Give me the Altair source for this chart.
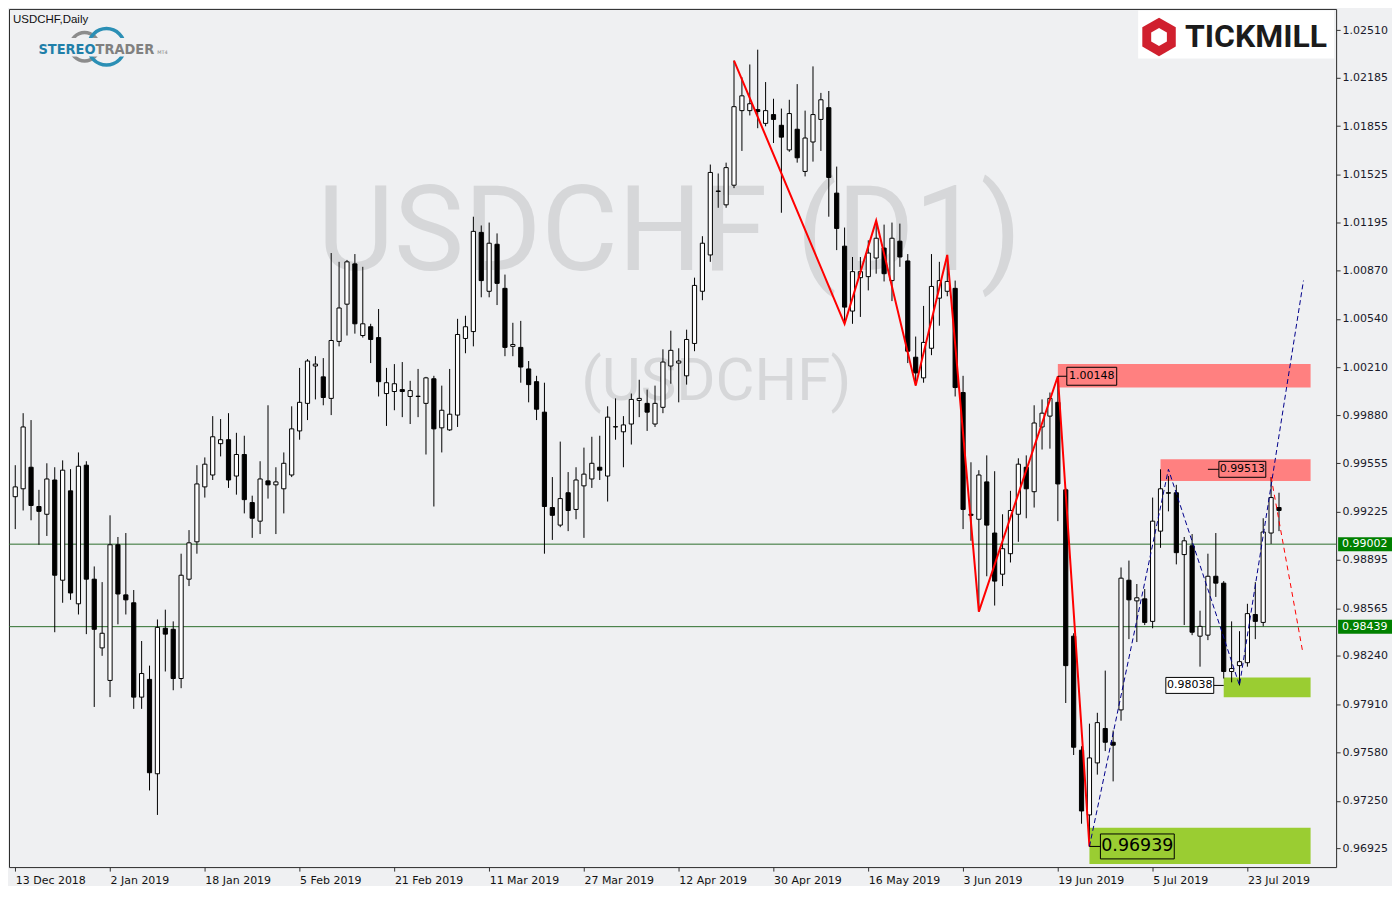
import altair as alt
import pandas as pd

# ---------------- data ----------------
dates = ["13 Dec 2018", "2 Jan 2019", "18 Jan 2019", "5 Feb 2019", "21 Feb 2019",
         "11 Mar 2019", "27 Mar 2019", "12 Apr 2019", "30 Apr 2019", "16 May 2019",
         "3 Jun 2019", "19 Jun 2019", "5 Jul 2019", "23 Jul 2019"]
price_ticks = [1.02510, 1.02185, 1.01855, 1.01525, 1.01195, 1.00870, 1.00540, 1.00210,
               0.99880, 0.99555, 0.99225, 0.98895, 0.98565, 0.98240, 0.97910, 0.97580,
               0.97250, 0.96925]

opens = [
    0.99326, 0.99380, 0.99527, 0.99259, 0.99206, 0.99440, 0.98756, 0.99366, 0.98595, 0.99541,
    0.98763, 0.98294, 0.98072, 0.98998, 0.98656, 0.98602, 0.97958, 0.98079, 0.97435, 0.98428,
    0.98421, 0.98085, 0.98763, 0.99018, 0.99393, 0.99474, 0.99688, 0.99715, 0.99467, 0.99614,
    0.99286, 0.99159, 0.99434, 0.99407, 0.99380, 0.99474, 0.99775, 0.99963, 1.00218, 1.00144,
    0.99997, 1.00386, 1.00640, 1.00915, 1.00426, 1.00486, 1.00412, 1.00030, 1.00044, 1.00057,
    1.00010, 1.00010, 0.99963, 1.00131, 0.99796, 0.99782, 0.99883, 1.00406, 1.00453, 1.01130,
    1.00728, 1.01049, 1.00748, 1.00352, 1.00345, 1.00198, 1.00111, 0.99903, 0.99252, 0.99132,
    0.99353, 0.99239, 0.99400, 0.99447, 0.99527, 0.99467, 0.99802, 0.99769, 0.99822, 0.99983,
    0.99963, 0.99822, 0.99936, 1.00218, 1.00238, 1.00151, 1.00372, 1.00728, 1.00976, 1.01412,
    1.01318, 1.01452, 1.01961, 1.01961, 1.01968, 1.01874, 1.01934, 1.01861, 1.01693, 1.01834,
    1.01546, 1.01747, 1.01901, 1.01981, 1.01398, 1.01036, 1.00593, 1.00821, 1.00828, 1.00955,
    1.01023, 1.00801, 1.01070, 1.00935, 1.00278, 1.00137, 1.00339, 1.00681, 1.00728, 1.00748,
    1.00037, 0.99206, 0.99172, 0.99427, 0.99078, 0.98797, 0.98937, 0.99206, 0.99527, 0.99360,
    0.99802, 0.99876, 0.99970, 0.99373, 0.98374, 0.97596, 0.97154, 0.97509, 0.97744, 0.97650,
    0.97871, 0.98756, 0.98615, 0.98629, 0.98475, 0.99091, 0.99353, 0.99353, 0.98931, 0.98991,
    0.98374, 0.98381, 0.98783, 0.98736, 0.98133, 0.98173, 0.98193, 0.98522, 0.98468, 0.99078,
    0.99252]
highs = [
    0.99541, 0.99896, 0.99849, 0.99373, 0.99554, 0.99527, 0.99574, 0.99514, 0.99628, 0.99568,
    0.98850, 0.98743, 0.99199, 0.99051, 0.99078, 0.98689, 0.98341, 0.98173, 0.98488, 0.98555,
    0.98475, 0.98937, 0.99098, 0.99541, 0.99594, 0.99876, 0.99856, 0.99896, 0.99762, 0.99742,
    0.99333, 0.99568, 0.99950, 0.99527, 0.99628, 0.99943, 1.00205, 1.00265, 1.00285, 1.00272,
    1.00989, 1.00929, 1.00942, 1.00982, 1.00895, 1.00506, 1.00607, 1.00205, 1.00231, 1.00245,
    1.00117, 1.00198, 1.00144, 1.00151, 1.00084, 1.00198, 1.00540, 1.00561, 1.01237, 1.01177,
    1.01197, 1.01123, 1.00842, 1.00513, 1.00526, 1.00252, 1.00151, 1.00104, 0.99460, 0.99702,
    0.99494, 0.99527, 0.99661, 0.99735, 0.99742, 0.99943, 0.99997, 0.99876, 1.00030, 1.00124,
    1.00057, 1.00084, 1.00332, 1.00459, 1.00339, 1.00466, 1.00821, 1.01104, 1.01593, 1.01532,
    1.01606, 1.02303, 1.02189, 1.02276, 1.02377, 1.02156, 1.02042, 1.01975, 1.02035, 1.02142,
    1.01961, 1.02263, 1.02082, 1.02095, 1.01579, 1.01163, 1.00962, 1.00962, 1.01076, 1.01210,
    1.01183, 1.01197, 1.01190, 1.00982, 1.00419, 1.00628, 1.00982, 1.00929, 1.00976, 1.00801,
    1.00151, 0.99561, 0.99507, 0.99608, 0.99500, 0.99206, 0.99366, 0.99588, 0.99608, 0.99950,
    0.99990, 1.00037, 1.00148, 0.99386, 0.98394, 0.97623, 0.97777, 0.97851, 0.98139, 0.97730,
    0.98843, 0.98890, 0.98730, 0.98696, 0.99320, 0.99513, 0.99467, 0.99407, 0.99051, 0.99071,
    0.98548, 0.98937, 0.99078, 0.98750, 0.98475, 0.98408, 0.98595, 0.98743, 0.99179, 0.99460,
    0.99353]
lows = [
    0.99105, 0.99232, 0.99165, 0.98998, 0.99058, 0.98401, 0.98602, 0.98622, 0.98522, 0.98388,
    0.97891, 0.98240, 0.97958, 0.98455, 0.98522, 0.97878, 0.97878, 0.97321, 0.97154, 0.98133,
    0.98005, 0.98019, 0.98716, 0.98937, 0.99320, 0.99440, 0.99601, 0.99386, 0.99340, 0.99212,
    0.99045, 0.99071, 0.99313, 0.99071, 0.99212, 0.99460, 0.99715, 0.99849, 0.99990, 0.99950,
    0.99883, 1.00352, 1.00426, 1.00439, 1.00412, 1.00238, 1.00010, 0.99809, 0.99916, 0.99869,
    0.99822, 0.99869, 0.99614, 0.99259, 0.99628, 0.99775, 0.99802, 1.00305, 1.00352, 1.00687,
    1.00687, 1.00634, 1.00285, 1.00285, 1.00104, 0.99970, 0.99849, 0.98937, 0.99031, 0.99118,
    0.99091, 0.99172, 0.99045, 0.99386, 0.99440, 0.99293, 0.99715, 0.99527, 0.99682, 0.99869,
    0.99775, 0.99802, 0.99896, 1.00097, 0.99970, 1.00091, 1.00319, 1.00667, 1.00929, 1.01298,
    1.01298, 1.01432, 1.01686, 1.01928, 1.01841, 1.01854, 1.01740, 1.01264, 1.01680, 1.01606,
    1.01512, 1.01613, 1.01686, 1.01237, 1.01009, 1.00506, 1.00506, 1.00553, 1.00734, 1.00848,
    1.00795, 1.00661, 1.00895, 1.00238, 1.00084, 1.00104, 1.00292, 1.00493, 1.00694, 1.00010,
    0.99105, 0.99025, 0.98542, 0.98783, 0.98583, 0.98716, 0.98877, 0.99018, 0.99179, 0.99252,
    0.99648, 0.99654, 0.99159, 0.97918, 0.97563, 0.97094, 0.96939, 0.97429, 0.97590, 0.97383,
    0.97797, 0.98354, 0.98334, 0.98450, 0.98428, 0.98977, 0.99226, 0.98864, 0.98450, 0.98381,
    0.98166, 0.98347, 0.98642, 0.98085, 0.98059, 0.98038, 0.98166, 0.98354, 0.98441, 0.99004,
    0.99091]
closes = [
    0.99393, 0.99802, 0.99266, 0.99226, 0.99447, 0.98790, 0.99507, 0.98669, 0.99534, 0.98763,
    0.98421, 0.98394, 0.98998, 0.98662, 0.98622, 0.97958, 0.98119, 0.97442, 0.98434, 0.98388,
    0.98085, 0.98790, 0.99011, 0.99413, 0.99548, 0.99735, 0.99715, 0.99440, 0.99614, 0.99306,
    0.99179, 0.99447, 0.99407, 0.99427, 0.99554, 0.99789, 0.99970, 1.00252, 1.00231, 1.00003,
    1.00392, 1.00614, 1.00929, 1.00506, 1.00506, 1.00399, 1.00111, 1.00104, 1.00097, 1.00044,
    1.00050, 1.00012, 1.00137, 0.99789, 0.99916, 0.99889, 1.00433, 1.00486, 1.01137, 1.00801,
    1.01056, 1.00782, 1.00345, 1.00365, 1.00211, 1.00091, 0.99923, 0.99259, 0.99199, 0.99313,
    0.99232, 0.99440, 0.99480, 0.99554, 0.99507, 0.99869, 0.99804, 0.99816, 0.99990, 0.99997,
    0.99903, 0.99963, 1.00245, 1.00325, 1.00252, 1.00399, 1.00768, 1.01056, 1.01539, 1.01410,
    1.01572, 1.01988, 1.02062, 1.02008, 1.01955, 1.01961, 1.01901, 1.01780, 1.01941, 1.01639,
    1.01774, 1.01934, 1.02035, 1.01505, 1.01157, 1.00620, 1.00862, 1.00862, 1.00989, 1.01090,
    1.00848, 1.01090, 1.00962, 1.00319, 1.00171, 1.00379, 1.00761, 1.00801, 1.00795, 1.00071,
    0.99239, 0.99199, 0.99474, 0.99132, 0.98750, 0.98971, 0.99232, 0.99548, 0.99380, 0.99829,
    0.99896, 0.99997, 0.99413, 0.98173, 0.97616, 0.97181, 0.97543, 0.97784, 0.97650, 0.97630,
    0.98770, 0.98622, 0.98636, 0.98468, 0.99159, 0.99380, 0.99350, 0.98944, 0.99025, 0.98401,
    0.98441, 0.98783, 0.98736, 0.98133, 0.98153, 0.98200, 0.98528, 0.98475, 0.99085, 0.99320,
    0.99232]

# horizontal levels
hline_levels = [0.99002, 0.98439]

# red zigzag (bar index, price)
zig_bars = [91, 105, 109, 114, 118, 122, 132, 136]
zig_prices = [1.02303, 1.00506, 1.01210, 1.00084, 1.00976, 0.98542, 1.00148, 0.96939]

# blue dashed projection
blue_bars = [136, 146, 155, 163.1]
blue_prices = [0.96939, 0.99513, 0.98038, 1.00801]

# red dashed projection
rdash_bars = [159, 163]
rdash_prices = [0.99460, 0.98267]

# zones
zone_kind = ["resistance", "resistance", "support", "support"]
zone_start = [132, 145, 153, 136]
zone_end = [164, 164, 164, 164]
zone_top = [1.00231, 0.99581, 0.98092, 0.97067]
zone_bottom = [1.00071, 0.99434, 0.97958, 0.96819]

# price labels
label_texts = ["1.00148", "0.99513", "0.98038", "0.96939"]
label_bars = [132, 151, 153, 136]
label_prices = [1.00148, 0.99513, 0.98038, 0.96939]

# ---------------- layout helpers ----------------
W, H = 1330, 860
BG = "#eff0f2"
SX = W / 1334.0
SY = H / 873.5


def px(x):
    return (x - 2) * SX


def py(y):
    return (y - 2.5) * SY


xs = alt.Scale(domain=[-0.16, 166.6], nice=False, zero=False)
ys = alt.Scale(domain=[0.96798, 1.02655], nice=False, zero=False)

label_expr = "[" + ",".join("'%s'" % d for d in dates) + "][round(datum.value / 12)]"
x_axis = alt.Axis(values=[12 * i for i in range(len(dates))], labelExpr=label_expr,
                  orient="bottom", labelAlign="left", labelBaseline="top", tickSize=4,
                  tickColor="#333", grid=False, domain=False, title=None,
                  labelFont="DejaVu Sans", labelFontSize=11, labelColor="#111",
                  labelPadding=3, labelFlush=False, labelOverlap=False)
y_axis = alt.Axis(values=price_ticks, format=".5f", orient="right", tickSize=4,
                  tickColor="#333", grid=False, domain=False, title=None,
                  labelFont="DejaVu Sans", labelFontSize=11, labelColor="#1a1a2a",
                  labelPadding=2, labelFlush=False, labelOverlap=False,
                  labelBaseline="middle")


def X(f):
    return alt.X(f, type="quantitative", scale=xs, axis=x_axis)


def Y(f):
    return alt.Y(f, type="quantitative", scale=ys, axis=y_axis)


layers = []

# ---------- watermark ----------
wm = pd.DataFrame({"t": ["USDCHF (D1)"]})
layers.append(alt.Chart(wm).mark_text(font="Roboto", fontSize=120 * SY, color="#d6d7d9",
                                      align="center", baseline="alphabetic").encode(
    x=alt.value(px(666)), y=alt.value(py(268)), text="t:N"))
wm2 = pd.DataFrame({"t": ["(USDCHF)"]})
layers.append(alt.Chart(wm2).mark_text(font="Roboto", fontSize=61 * SY, color="#d6d7d9",
                                       align="center", baseline="alphabetic").encode(
    x=alt.value(px(713)), y=alt.value(py(401)), text="t:N"))

# ---------- zones ----------
zones = pd.DataFrame({"kind": zone_kind, "k0": zone_start, "k1": zone_end,
                      "top": zone_top, "bottom": zone_bottom})
layers.append(alt.Chart(zones).mark_rect().encode(
    x=X("k0"), x2=alt.X2("k1"), y=Y("top"), y2=alt.Y2("bottom"),
    color=alt.Color("kind:N", scale=alt.Scale(domain=["resistance", "support"],
                                              range=["#ff8080", "#9acd32"]), legend=None)))

# ---------- horizontal lines ----------
hl = pd.DataFrame({"p": hline_levels})
layers.append(alt.Chart(hl).mark_rule(color="#2d6e2d", strokeWidth=1).encode(y=Y("p")))

# ---------- candles ----------
candles = pd.DataFrame({"bar": list(range(len(opens))), "open": opens, "high": highs,
                        "low": lows, "close": closes})
base = alt.Chart(candles)
layers.append(base.mark_rule(color="black", strokeWidth=1).encode(
    x=X("bar"), y=Y("low"), y2=alt.Y2("high")))
layers.append(base.mark_bar(size=4.2, stroke="black", strokeWidth=1).encode(
    x=X("bar"), y=Y("open"), y2=alt.Y2("close"),
    fill=alt.condition("datum.close >= datum.open", alt.value("white"), alt.value("black"))))

# ---------- zigzag & projections ----------
zig = pd.DataFrame({"k": zig_bars, "p": zig_prices, "i": list(range(len(zig_bars)))})
layers.append(alt.Chart(zig).mark_line(color="#ff0000", strokeWidth=2).encode(
    x=X("k"), y=Y("p"), order="i:Q"))
blue = pd.DataFrame({"k": blue_bars, "p": blue_prices, "i": list(range(len(blue_bars)))})
layers.append(alt.Chart(blue).mark_line(color="#00008b", strokeWidth=1, strokeDash=[5, 3]).encode(
    x=X("k"), y=Y("p"), order="i:Q"))
rd = pd.DataFrame({"k": rdash_bars, "p": rdash_prices, "i": [0, 1]})
layers.append(alt.Chart(rd).mark_line(color="#ff0000", strokeWidth=1, strokeDash=[5, 4]).encode(
    x=X("k"), y=Y("p"), order="i:Q"))

# ---------- price labels ----------
# (connector start, connector end, box left, box right, half height, font size, box fill)
label_styles = [
    (0, 9, 9, 59, 9, 11, None),
    (0, 11, 11, 58, 8, 11, None),
    (-10, 0, -58, -10, 8, 11, "white"),
    (0, 11, 11, 85, 12.5, 17.5, None),
]
for t, k, p, st in zip(label_texts, label_bars, label_prices, label_styles):
    c0, c1, b0, b1, hh, fs, fill = st
    d = pd.DataFrame({"k": [k], "p": [p], "t": [t]})
    lc = alt.Chart(d)
    layers.append(lc.mark_rule(color="black", strokeWidth=1, xOffset=c0, x2Offset=c1).encode(
        x=X("k"), x2=alt.X2("k"), y=Y("p")))
    rect_kw = dict(stroke="black", strokeWidth=1, xOffset=b0, x2Offset=b1,
                   yOffset=-hh, y2Offset=hh)
    if fill:
        rect_kw["fill"] = fill
    else:
        rect_kw["fillOpacity"] = 0
    layers.append(lc.mark_rect(**rect_kw).encode(x=X("k"), x2=alt.X2("k"), y=Y("p"), y2=alt.Y2("p")))
    layers.append(lc.mark_text(font="DejaVu Sans", fontSize=fs, color="black", align="center",
                               baseline="middle", dx=(b0 + b1) / 2.0).encode(
        x=X("k"), y=Y("p"), text="t:N"))

# ---------- right axis price boxes ----------
pb = pd.DataFrame({"p": hline_levels, "t": ["%.5f" % v for v in hline_levels]})
layers.append(alt.Chart(pb).mark_rect(color="#008000", yOffset=-7, y2Offset=7).encode(
    x=alt.value(W + 2), x2=alt.value(W + 56), y=Y("p"), y2=alt.Y2("p")))
layers.append(alt.Chart(pb).mark_text(font="DejaVu Sans", fontSize=11, color="white",
                                      align="left", baseline="middle").encode(
    x=alt.value(W + 6), y=Y("p"), text="t:N"))

# ---------- symbol caption ----------
cap = pd.DataFrame({"t": ["USDCHF,Daily"]})
layers.append(alt.Chart(cap).mark_text(font="Liberation Sans", fontSize=11.5, color="#111",
                                       align="left", baseline="alphabetic").encode(
    x=alt.value(px(6)), y=alt.value(py(17)), text="t:N"))

# ---------- StereoTrader logo ----------
one = pd.DataFrame({"a": [0]})
layers.append(alt.Chart(one).mark_arc(radius=16, radius2=12.5, theta=0, theta2=6.2832,
                                      color="#8c8c8c").encode(
    x=alt.value(px(78)), y=alt.value(py(41))))
layers.append(alt.Chart(one).mark_arc(radius=20, radius2=16.5, theta=0, theta2=6.2832,
                                      color="#2b8fb5").encode(
    x=alt.value(px(100)), y=alt.value(py(41))))
layers.append(alt.Chart(one).mark_rect(color=BG).encode(
    x=alt.value(px(34)), x2=alt.value(px(150)), y=alt.value(py(32)), y2=alt.value(py(51))))
st1 = pd.DataFrame({"t": ["STEREO"]})
layers.append(alt.Chart(st1).mark_text(font="DejaVu Sans Condensed", fontWeight="bold",
                                       fontSize=14.5, color="#1f7fa9", align="right",
                                       baseline="alphabetic").encode(
    x=alt.value(px(89)), y=alt.value(py(48)), text="t:N"))
st2 = pd.DataFrame({"t": ["TRADER"]})
layers.append(alt.Chart(st2).mark_text(font="DejaVu Sans Condensed", fontWeight="bold",
                                       fontSize=14.5, color="#808080", align="left",
                                       baseline="alphabetic").encode(
    x=alt.value(px(89)), y=alt.value(py(48)), text="t:N"))
st3 = pd.DataFrame({"t": ["MT4"]})
layers.append(alt.Chart(st3).mark_text(font="DejaVu Sans", fontSize=5, color="#808080",
                                       align="left", baseline="alphabetic").encode(
    x=alt.value(px(151)), y=alt.value(py(48)), text="t:N"))

# ---------- Tickmill logo ----------
layers.append(alt.Chart(one).mark_rect(color="white").encode(
    x=alt.value(px(1137)), x2=alt.value(px(1334)), y=alt.value(py(4)), y2=alt.value(py(53))))
hexagon = "M0,-1 L0.866,-0.5 L0.866,0.5 L0,1 L-0.866,0.5 L-0.866,-0.5 Z"
layers.append(alt.Chart(one).mark_point(shape=hexagon, size=1500, filled=True, opacity=1,
                                        color="#d0202e").encode(
    x=alt.value(px(1158)), y=alt.value(py(31))))
layers.append(alt.Chart(one).mark_point(shape=hexagon, size=330, filled=True, opacity=1,
                                        color="white").encode(
    x=alt.value(px(1158)), y=alt.value(py(31))))
tm = pd.DataFrame({"t": ["TICKMILL"]})
layers.append(alt.Chart(tm).mark_text(font="Roboto", fontWeight="bold", fontSize=32,
                                      color="#1b1b1b", align="left",
                                      baseline="alphabetic").encode(
    x=alt.value(px(1184)), y=alt.value(py(41)), text="t:N"))

chart = alt.layer(*layers).properties(
    width=W, height=H, padding=0, background=BG
).configure_view(stroke="#2a2a2a", strokeWidth=1, fill=BG)

chart.save("out.html", embed_options={"renderer": "svg", "actions": False})
